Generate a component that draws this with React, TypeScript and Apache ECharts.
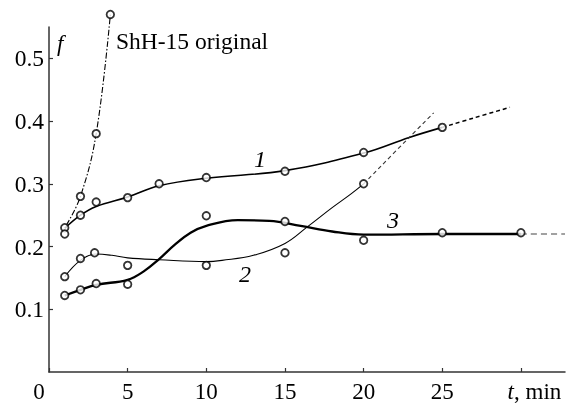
import React, { useEffect, useRef } from "react";
import * as echarts from "echarts";

// Axis ticks
const xTicks = [0, 5, 10, 15, 20, 25, 30];
const yTicks = [0.1, 0.2, 0.3, 0.4, 0.5];

// Measured points (t, f)
const points1 = [[1, 0.23], [2, 0.25], [3, 0.271], [5, 0.278], [7, 0.3], [10, 0.31], [15, 0.32], [20, 0.35], [25, 0.39]];
const points2 = [[1, 0.152], [2, 0.181], [2.9, 0.19], [5, 0.17], [10, 0.17], [15, 0.19], [20, 0.3]];
const points3 = [[1, 0.122], [2, 0.131], [3, 0.141], [5, 0.14], [10, 0.249], [15, 0.24], [20, 0.21], [25, 0.222], [30, 0.222]];
const pointsShH = [[1, 0.22], [2, 0.28], [3, 0.38], [3.9, 0.57]];

// Fitted curves
const curve1 = [[1, 0.229], [2, 0.25], [3, 0.264], [5, 0.279], [7, 0.297], [10, 0.309], [15, 0.321], [20, 0.349], [22.9, 0.374], [25, 0.39]];
const curve1Ext = [[25, 0.39], [27, 0.405], [29.3, 0.422]];
const curve2 = [[1, 0.152], [2, 0.178], [3, 0.188], [4, 0.186], [5, 0.182], [7, 0.179], [10, 0.176], [11, 0.178], [13, 0.186], [15, 0.205], [16.4, 0.231], [18, 0.262], [19.2, 0.284], [20, 0.3]];
const curve2Ext = [[20, 0.3], [22.9, 0.374], [24.45, 0.413]];
const curve3 = [[1, 0.122], [2, 0.131], [3, 0.139], [5, 0.147], [6, 0.16], [7, 0.18], [8, 0.203], [9, 0.222], [10, 0.233], [12, 0.242], [14, 0.241], [16, 0.233], [18, 0.224], [20, 0.219], [25, 0.22], [30, 0.22]];
const curve3Ext = [[30, 0.22], [32.8, 0.22]];
const curveShH = [[1.1, 0.234], [2, 0.28], [3, 0.38], [3.9, 0.57]];

const FONT = "'Liberation Serif', 'Times New Roman', serif";

export default function App() {
  const ref = useRef<HTMLDivElement>(null);
  useEffect(() => {
    if (!ref.current) return;
    const chart = echarts.init(ref.current, null, { renderer: "svg" });
    const lineS = (data: number[][], width: number, type: any, color = "#000", z = 2) => ({
      type: "line",
      data,
      smooth: 0.4,
      symbol: "none",
      showSymbol: false,
      clip: false,
      z,
      lineStyle: { color, width, type },
    });
    const pts = (data: number[][]) => ({
      type: "scatter",
      data,
      symbol: "circle",
      symbolSize: 7.5,
      clip: false,
      z: 5,
      itemStyle: { color: "#fff", borderColor: "#000", borderWidth: 1.8 },
    });
    chart.setOption({
      animation: false,
      grid: { left: 49, right: 1, top: 27, bottom: 29 },
      xAxis: {
        type: "value",
        min: 0,
        max: 32.8,
        interval: 5,
        axisLine: { lineStyle: { color: "#333", width: 1.5 } },
        axisTick: { inside: true, length: 4, customValues: xTicks, lineStyle: { color: "#333", width: 1.2 } },
        splitLine: { show: false },
        axisLabel: {
          customValues: xTicks,
          margin: 8,
          color: "#000",
          fontFamily: FONT,
          fontSize: 23,
          formatter: (v: number) => (v === 0 ? "{z|0}" : v === 30 ? "{it|t}{n|, min}" : String(v)),
          rich: {
            z: { fontFamily: FONT, fontSize: 23, color: "#000", padding: [0, 20, 0, 0] },
            it: { fontFamily: FONT, fontSize: 23, color: "#000", fontStyle: "italic", padding: [0, 0, 0, 27] },
            n: { fontFamily: FONT, fontSize: 23, color: "#000" },
          },
        },
      },
      yAxis: {
        type: "value",
        min: 0,
        max: 0.55,
        interval: 0.1,
        axisLine: { show: true, lineStyle: { color: "#333", width: 1.5 } },
        axisTick: { show: true, inside: true, length: 4, customValues: yTicks, lineStyle: { color: "#333", width: 1.2 } },
        splitLine: { show: false },
        axisLabel: {
          customValues: yTicks,
          margin: 5,
          color: "#000",
          fontFamily: FONT,
          fontSize: 23.5,
          formatter: (v: number) => v.toFixed(1),
        },
      },
      graphic: [
        { type: "text", x: 57, y: 43, style: { text: "f", fill: "#000", font: `italic 23px ${FONT}`, align: "left", verticalAlign: "middle" } },
        { type: "text", x: 116, y: 41, style: { text: "ShH-15 original", fill: "#000", font: `23.5px ${FONT}`, align: "left", verticalAlign: "middle" } },
        { type: "text", x: 260, y: 159, style: { text: "1", fill: "#000", font: `italic 24px ${FONT}`, align: "center", verticalAlign: "middle" } },
        { type: "text", x: 245, y: 274, style: { text: "2", fill: "#000", font: `italic 24px ${FONT}`, align: "center", verticalAlign: "middle" } },
        { type: "text", x: 393, y: 220, style: { text: "3", fill: "#000", font: `italic 24px ${FONT}`, align: "center", verticalAlign: "middle" } },
      ],
      series: [
        lineS(curve1, 1.6, "solid"),
        lineS(curve1Ext, 1.5, [4, 3]),
        lineS(curve2, 1.1, "solid"),
        lineS(curve2Ext, 1.1, [4, 3], "#333"),
        lineS(curve3, 2.3, "solid"),
        lineS(curve3Ext, 1.1, [6, 4], "#444"),
        lineS(curveShH, 1.1, [6, 2, 1.5, 2]),
        pts(points1),
        pts(points2),
        pts(points3),
        pts(pointsShH),
      ],
    });
    return () => chart.dispose();
  }, []);
  return <div ref={ref} style={{ position: "fixed", left: 0, top: 0, width: 566, height: 403 }} />;
}
